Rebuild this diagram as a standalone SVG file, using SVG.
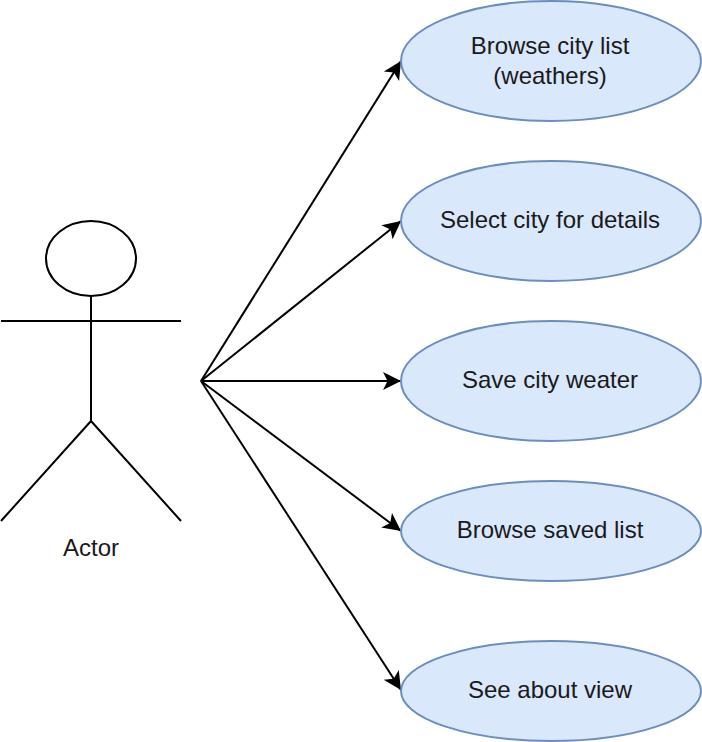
<svg xmlns="http://www.w3.org/2000/svg" width="702" height="742" viewBox="0 0 702 742">
<style>
text{font-family:"Liberation Sans",Arial,sans-serif;font-size:24px;fill:#1a1a1a;text-anchor:middle}
.u{fill:#dae8fc;stroke:#6c8ebf;stroke-width:2}
.a{fill:none;stroke:#000;stroke-width:2}
.c{fill:none;stroke:#000;stroke-width:2;marker-end:url(#arrow)}
</style>
<defs>
<marker id="arrow" markerUnits="userSpaceOnUse" markerWidth="22" markerHeight="22" refX="20" refY="11" orient="auto">
<path d="M2 2L20 11L2 20L6.500 11Z" fill="#000"/>
</marker>
</defs>
<rect width="702" height="742" fill="#fff"/>
<g id="connectors">
<path class="c" d="M201 381L401 61"/>
<path class="c" d="M201 381L401 221"/>
<path class="c" d="M201 381L401 381"/>
<path class="c" d="M201 381L401 531"/>
<path class="c" d="M201 381L401 690"/>
</g>
<g id="actor">
<ellipse class="a" cx="91" cy="258.500" rx="45" ry="37.500"/>
<path class="a" d="M91 296V421M1 321H181M91 421L1 521M91 421L181 521"/>
<text x="91" y="556">Actor</text>
</g>
<g id="uc1"><ellipse class="u" cx="551" cy="61" rx="150" ry="60"/><text x="550" y="54">Browse city list</text><text x="550" y="84">(weathers)</text></g>
<g id="uc2"><ellipse class="u" cx="551" cy="221" rx="150" ry="60"/><text x="550" y="228">Select city for details</text></g>
<g id="uc3"><ellipse class="u" cx="551" cy="381" rx="150" ry="60"/><text x="550" y="388">Save city weater</text></g>
<g id="uc4"><ellipse class="u" cx="551" cy="531" rx="150" ry="50"/><text x="550" y="538">Browse saved list</text></g>
<g id="uc5"><ellipse class="u" cx="551" cy="691" rx="150" ry="50"/><text x="550" y="698">See about view</text></g>
</svg>
